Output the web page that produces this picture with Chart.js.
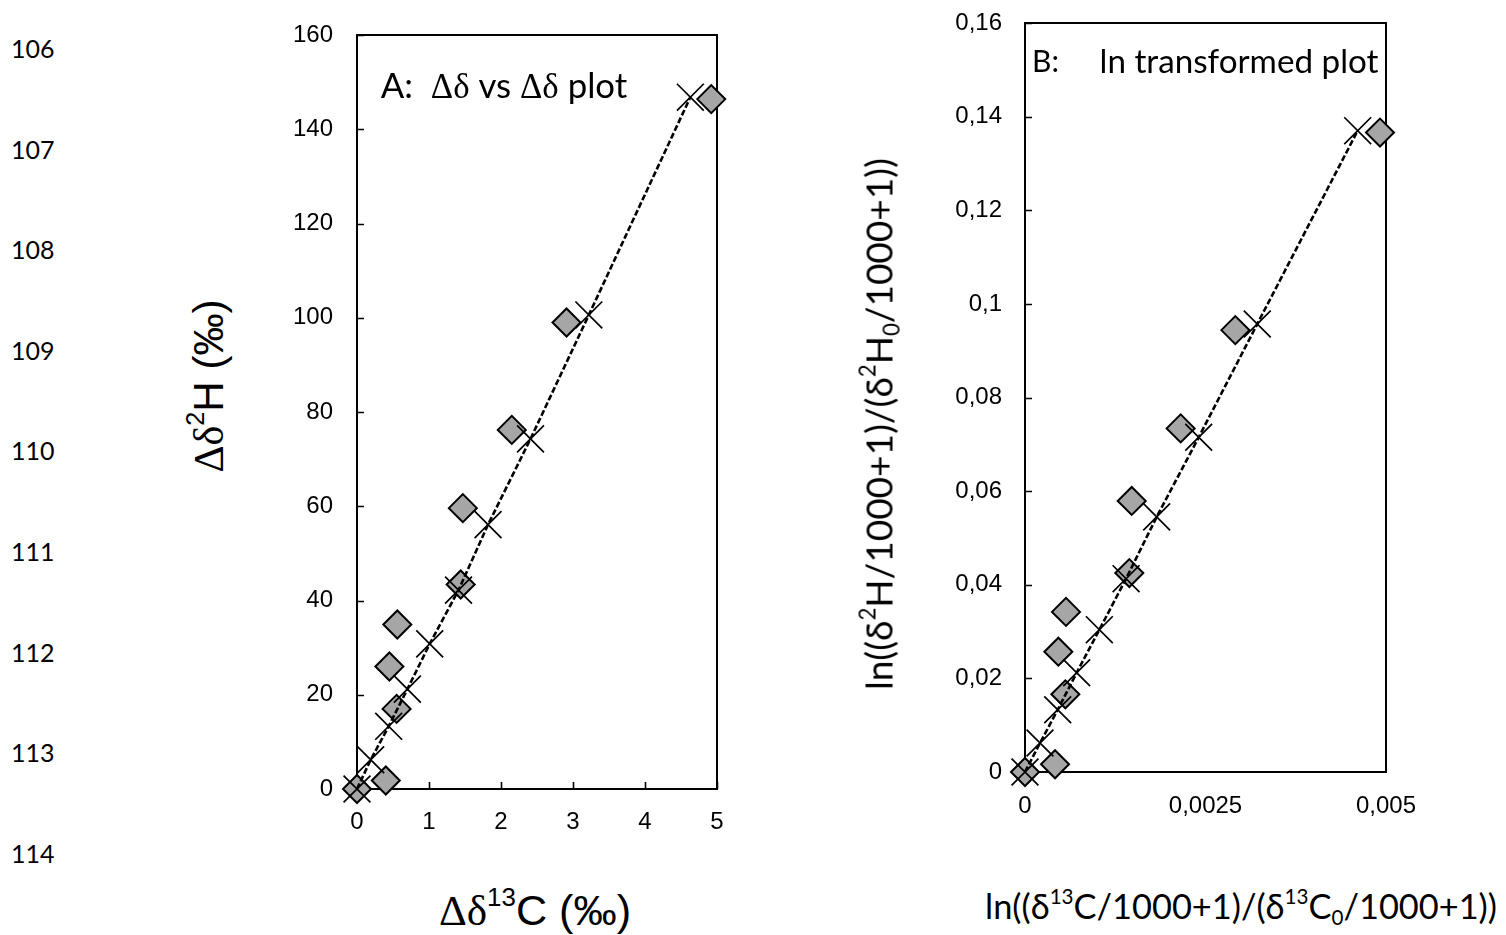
<!DOCTYPE html>
<html>
<head>
<meta charset="utf-8">
<script src="https://cdn.jsdelivr.net/npm/chart.js@4.4.0/dist/chart.umd.min.js"></script>
<style>
html,body{margin:0;padding:0;background:#fff;}
body{width:1506px;height:935px;overflow:hidden;position:relative;}
.t{position:absolute;white-space:nowrap;color:#000;line-height:1;}
.c{transform:translate(-50%,-50%);}
.r{transform:translate(-50%,-50%) rotate(-90deg);}
.ar{font-family:"Liberation Sans",Arial,sans-serif;}
.la{font-family:Lato,"Open Sans",sans-serif;}
.se{font-family:"Liberation Serif","DejaVu Serif",serif;}
.sp{font-size:0.6em;position:relative;top:-0.75em;}
.sb{font-size:0.6em;position:relative;top:0.3em;}
.wrap{position:absolute;top:0;}
</style>
</head>
<body>
<div class="wrap" style="left:250px;"><canvas id="cA" width="520" height="870"></canvas></div>
<div class="wrap" style="left:900px;"><canvas id="cB" width="560" height="870"></canvas></div>

<div id="yTitleA" class="t r ar" style="left:209px;top:386px;font-size:36px;"><span class="se">Δδ</span><span class="sp">2</span>H (‰)</div>
<div id="xTitleA" class="t c ar" style="left:535px;top:911px;font-size:36px;"><span class="se">Δδ</span><span class="sp">13</span>C (‰)</div>
<div id="plotTitleA" class="t c la" style="left:504px;top:86px;font-size:30px;">A:&nbsp; <span class="se">Δδ</span> vs <span class="se">Δδ</span> plot</div>
<div id="plotTitleB1" class="t la" style="left:1032px;top:45px;font-size:30px;">B:</div>
<div id="plotTitleB2" class="t c la" style="left:1239px;top:61px;font-size:30px;">ln transformed plot</div>
<div id="yTitleB" class="t r la" style="left:879px;top:424px;font-size:26px;">ln((δ<span class="sp">2</span>H/1000+1)/(δ<span class="sp">2</span>H<span class="sb">0</span>/1000+1))</div>
<div id="xTitleB" class="t c la" style="left:1241px;top:906px;font-size:26px;">ln((δ<span class="sp">13</span>C/1000+1)/(δ<span class="sp">13</span>C<span class="sb">0</span>/1000+1))</div>

<script>
// ---------- data ----------
const lineNumbers = [106, 107, 108, 109, 110, 111, 112, 113, 114];

// Panel A: Δδ vs Δδ
const xDiamondA = [0, 0.40, 0.55, 0.45, 0.56, 1.44, 1.47, 2.15, 2.91, 4.92];
const yDiamondA = [0, 1.8, 17.0, 26.0, 34.9, 43.4, 59.6, 76.2, 99.0, 146.4];
const xCrossA   = [0, 0.19, 0.44, 0.70, 1.01, 1.41, 1.82, 2.41, 3.22, 4.63];
const yCrossA   = [0, 6.2, 13.3, 21.2, 30.8, 42.2, 56.1, 74.3, 100.6, 146.8];
const xTicksA = [0, 1, 2, 3, 4, 5];
const xTickLabelsA = ['0', '1', '2', '3', '4', '5'];
const yTicksA = [0, 20, 40, 60, 80, 100, 120, 140, 160];
const yTickLabelsA = ['0', '20', '40', '60', '80', '100', '120', '140', '160'];

// Panel B: ln transformed
const xDiamondB = [0, 0.000416, 0.000559, 0.000462, 0.000568, 0.001445, 0.001478, 0.002156, 0.002913, 0.004917];
const yDiamondB = [0, 0.00165, 0.0166, 0.0257, 0.0342, 0.0425, 0.0579, 0.0734, 0.0944, 0.1366];
const xCrossB   = [0, 0.000208, 0.000453, 0.000716, 0.00103, 0.00140, 0.001824, 0.002406, 0.003217, 0.004608];
const yCrossB   = [0, 0.0062, 0.0133, 0.0212, 0.0304, 0.0413, 0.0545, 0.0715, 0.0957, 0.1370];
const xTicksB = [0, 0.0025, 0.005];
const xTickLabelsB = ['0', '0,0025', '0,005'];
const yTicksB = [0, 0.02, 0.04, 0.06, 0.08, 0.1, 0.12, 0.14, 0.16];
const yTickLabelsB = ['0', '0,02', '0,04', '0,06', '0,08', '0,1', '0,12', '0,14', '0,16'];

// ---------- line numbers (text) ----------
lineNumbers.forEach((n, i) => {
  const d = document.createElement('div');
  d.className = 't la';
  d.style.left = '11px';
  d.style.top = (48 + i * 100.6) + 'px';
  d.style.transform = 'translateY(-50%)';
  d.style.fontSize = '25px';
  d.textContent = n;
  document.body.appendChild(d);
});

// ---------- chart helpers ----------
const pts = (xs, ys) => xs.map((x, i) => ({x, y: ys[i]}));

const framePlugin = {
  id: 'frame',
  beforeDatasetsDraw(chart, args, opts) {
    const {ctx, chartArea: a, scales: {x, y}} = chart;
    ctx.save();
    ctx.strokeStyle = '#000';
    ctx.lineWidth = 2;
    ctx.beginPath();
    ctx.moveTo(a.left, a.top); ctx.lineTo(a.right, a.top); ctx.lineTo(a.right, a.bottom);
    ctx.stroke();
    ctx.lineWidth = 1.6;
    ctx.beginPath();
    y.ticks.forEach(t => {
      const py = Math.round(y.getPixelForValue(t.value)) + 0.5;
      ctx.moveTo(a.left, py); ctx.lineTo(a.left + 7, py);
    });
    if (opts.xTicks) {
      x.ticks.forEach(t => {
        const px = Math.round(x.getPixelForValue(t.value)) + 0.5;
        ctx.moveTo(px, a.bottom); ctx.lineTo(px, a.bottom - 7);
      });
    }
    ctx.stroke();
    ctx.restore();
  }
};

function makeChart(id, o) {
  const tickFont = {family: '"Liberation Sans", Arial, sans-serif', size: 24};
  return new Chart(document.getElementById(id), {
    type: 'scatter',
    data: {
      datasets: [
        {
          data: pts(o.xc, o.yc),
          showLine: true,
          borderColor: '#000',
          borderWidth: 2.6,
          borderDash: [6, 2.5],
          pointStyle: 'crossRot',
          pointRadius: 19,
          pointBorderColor: '#000',
          pointBorderWidth: 1.7,
          pointBackgroundColor: 'rgba(0,0,0,0)',
          clip: false
        },
        {
          data: pts(o.xd, o.yd),
          showLine: false,
          pointStyle: 'rectRot',
          pointRadius: 14,
          pointBackgroundColor: '#a6a6a6',
          pointBorderColor: '#000',
          pointBorderWidth: 2,
          clip: false
        }
      ]
    },
    options: {
      responsive: false,
      animation: false,
      events: [],
      layout: {padding: {left: 0, top: o.padTop, right: o.padRight, bottom: 0}},
      plugins: {legend: {display: false}, tooltip: {enabled: false}, frame: {xTicks: o.xTickMarks}},
      scales: {
        x: {
          type: 'linear', position: 'bottom',
          min: o.xTicks[0], max: o.xTicks[o.xTicks.length - 1],
          grid: {display: false, drawTicks: false},
          border: {display: true, color: '#000', width: 2},
          afterBuildTicks: s => { s.ticks = o.xTicks.map(v => ({value: v})); },
          afterFit: s => { s.height = o.xAxisH; s.paddingLeft = 0; s.paddingRight = 0; },
          ticks: {
            font: tickFont, color: '#000', padding: o.xPad, maxRotation: 0, autoSkip: false,
            callback: (v, i) => o.xLabels[i]
          }
        },
        y: {
          type: 'linear', position: 'left',
          min: o.yTicks[0], max: o.yTicks[o.yTicks.length - 1],
          grid: {display: false, drawTicks: false},
          border: {display: true, color: '#000', width: 2},
          afterBuildTicks: s => { s.ticks = o.yTicks.map(v => ({value: v})); },
          afterFit: s => { s.width = o.yAxisW; s.paddingTop = 0; s.paddingBottom = 0; },
          ticks: {
            font: tickFont, color: '#000', padding: o.yPad, autoSkip: false,
            callback: (v, i) => o.yLabels[i]
          }
        }
      }
    },
    plugins: [framePlugin]
  });
}

makeChart('cA', {
  xd: xDiamondA, yd: yDiamondA, xc: xCrossA, yc: yCrossA,
  xTicks: xTicksA, xLabels: xTickLabelsA, yTicks: yTicksA, yLabels: yTickLabelsA,
  padTop: 35, padRight: 53, xAxisH: 81, yAxisW: 107, xPad: 19, yPad: 24, xTickMarks: true
});
makeChart('cB', {
  xd: xDiamondB, yd: yDiamondB, xc: xCrossB, yc: yCrossB,
  xTicks: xTicksB, xLabels: xTickLabelsB, yTicks: yTicksB, yLabels: yTickLabelsB,
  padTop: 23, padRight: 74, xAxisH: 98, yAxisW: 125, xPad: 20, yPad: 23, xTickMarks: false
});

// ---------- fit titles to the reference widths ----------
function fit(id, w) {
  const el = document.getElementById(id);
  const fs = parseFloat(getComputedStyle(el).fontSize);
  el.style.fontSize = (fs * w / el.offsetWidth) + 'px';
}
function fitAll() {
  fit('yTitleA', 173);
  fit('xTitleA', 192);
  fit('plotTitleA', 247);
  fit('plotTitleB2', 279);
  fit('yTitleB', 532);
  fit('xTitleB', 512);
}
fitAll();
</script>
</body>
</html>
